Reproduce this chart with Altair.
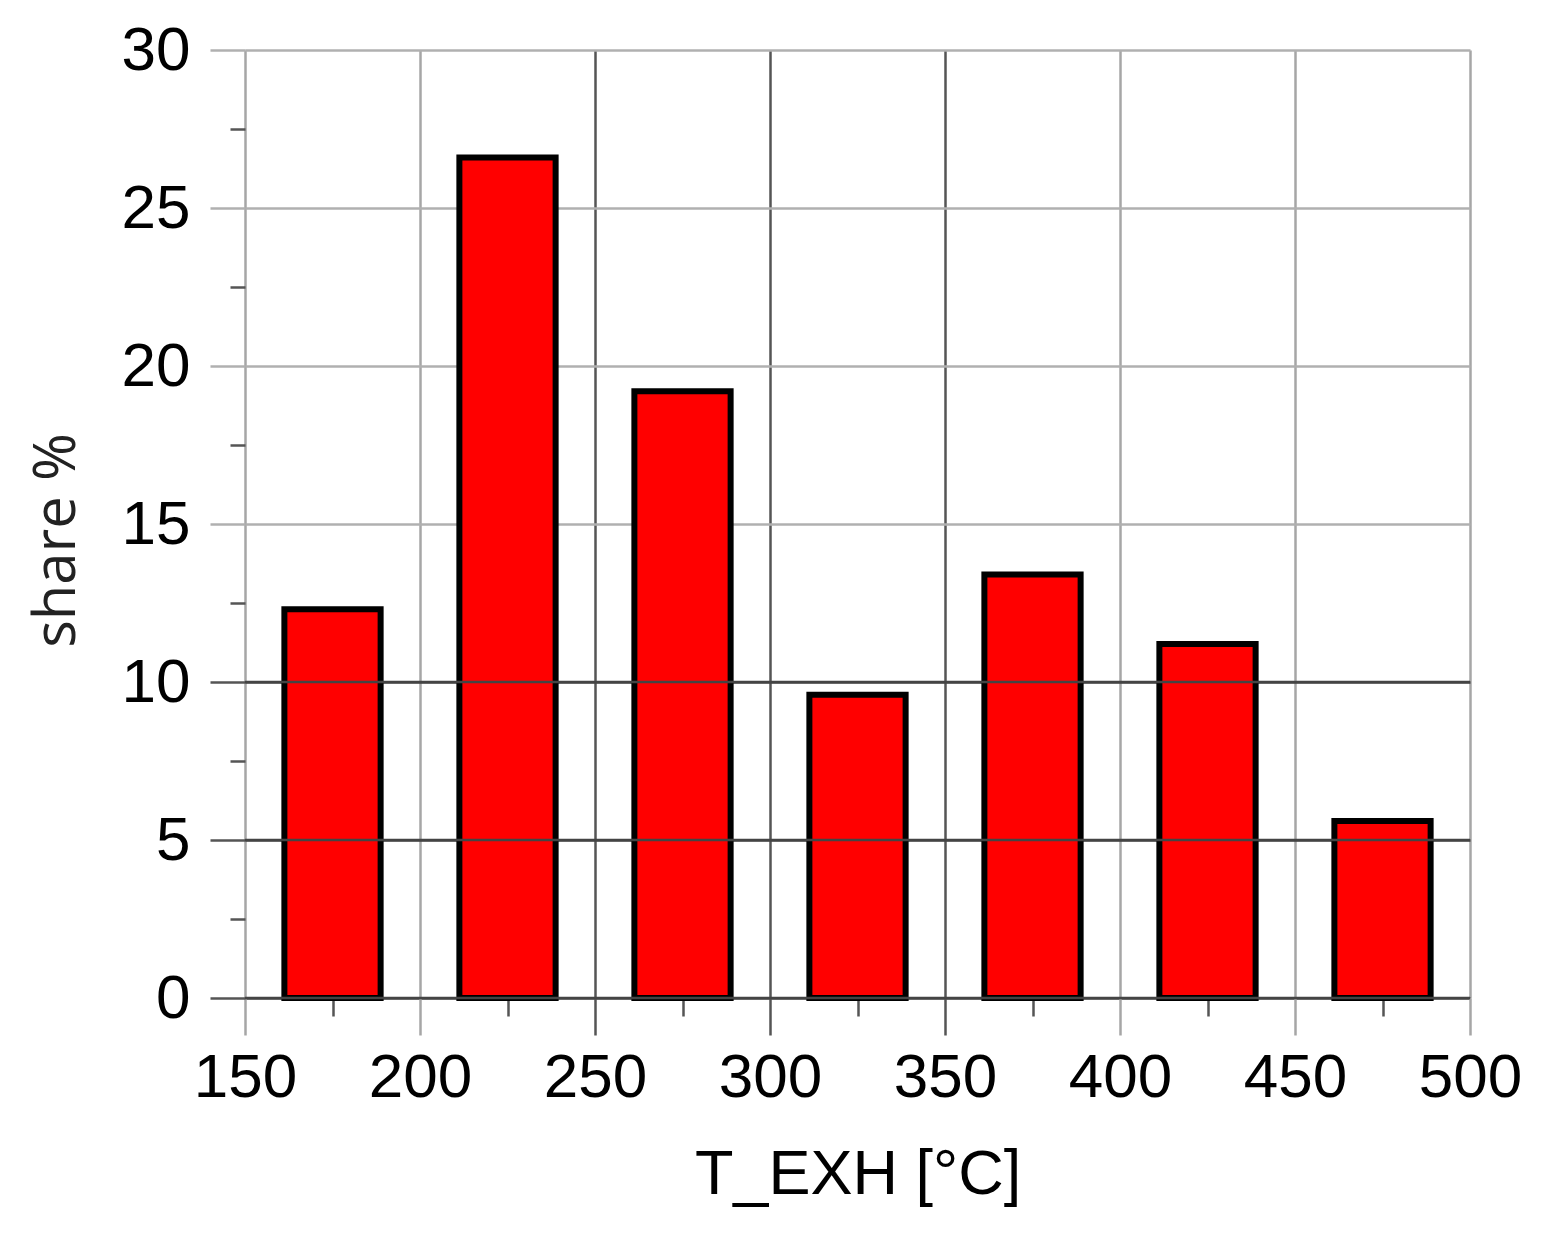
import altair as alt
import pandas as pd

# ---- data ----
bin_centers = [175, 225, 275, 325, 375, 425, 475]
shares = [12.3, 26.6, 19.2, 9.6, 13.4, 11.2, 5.6]
x_tick_values = [150, 175, 200, 225, 250, 275, 300, 325, 350, 375, 400, 425, 450, 475, 500]
y_tick_values = [0, 2.5, 5, 7.5, 10, 12.5, 15, 17.5, 20, 22.5, 25, 27.5, 30]
dark_levels = [0, 5, 10]

df = pd.DataFrame({"center": bin_centers, "share": shares})
levels = pd.DataFrame({"level": dark_levels})

HALF = 13.75
FONT = "Liberation Sans"

xscale = alt.Scale(domain=[150, 500], nice=False, zero=False)
yscale = alt.Scale(domain=[0, 30], nice=False)

x_major = "datum.value % 50 === 0"
y_major = "datum.value % 5 === 0"

x_axis = alt.Axis(
    values=x_tick_values,
    title="T_EXH [°C]",
    labelExpr=f"{x_major} ? datum.label : ''",
    domain=False,
    grid=True,
    gridOpacity={"condition": {"test": x_major, "value": 1}, "value": 0},
    gridColor={"condition": {"test": "datum.value >= 250 && datum.value <= 350", "value": "#555555"}, "value": "#a6a6a6"},
    gridWidth=2.5,
    tickSize={"condition": {"test": x_major, "value": 37}, "value": 18},
    tickColor={"condition": {"test": f"{x_major} && (datum.value < 250 || datum.value > 350)", "value": "#a6a6a6"}, "value": "#555555"},
    tickWidth=2.5,
    labelFont=FONT,
    labelFontSize=62,
    labelColor="#000000",
    labelPadding=12,
    labelFlush=False,
    labelOverlap=False,
    titleFont=FONT,
    titleFontSize=63,
    titleFontWeight="normal",
    titleColor="#000000",
    titleY=195,
    titleBaseline="alphabetic",
)

y_axis = alt.Axis(
    values=y_tick_values,
    title="share %",
    labelExpr=f"{y_major} ? datum.label : ''",
    domain=False,
    grid=True,
    gridOpacity={"condition": {"test": y_major, "value": 1}, "value": 0},
    gridColor={"condition": {"test": "datum.value <= 10", "value": "#444444"},
               "value": "#b0b0b0"},
    gridWidth=2.5,
    tickSize={"condition": {"test": y_major, "value": 35}, "value": 15},
    tickColor={"condition": {"test": f"{y_major} && datum.value > 10", "value": "#b0b0b0"}, "value": "#555555"},
    tickWidth=2.5,
    labelFont=FONT,
    labelFontSize=62,
    labelColor="#000000",
    labelPadding=20,
    labelFlush=False,
    labelOverlap=False,
    titleFont="Open Sans",
    titleFontSize=58,
    titleFontWeight="normal",
    titleColor="#222222",
    titleAngle=270,
    titleX=-188,
    titleY=490,
    titleAlign="center",
    titleBaseline="middle",
)

bars = (
    alt.Chart(df)
    .transform_calculate(x0=f"datum.center - {HALF}", x1=f"datum.center + {HALF}")
    .mark_rect(color="#ff0000", stroke="#000000", strokeWidth=6)
    .encode(
        x=alt.X("x0:Q", scale=xscale, axis=x_axis),
        x2="x1:Q",
        y=alt.Y("share:Q", scale=yscale, axis=y_axis),
        y2=alt.datum(0),
    )
)

rules = (
    alt.Chart(levels)
    .mark_rule(color="#444444", strokeWidth=2.5)
    .encode(y=alt.Y("level:Q", scale=yscale, axis=y_axis))
)

chart = (
    alt.layer(bars, rules)
    .properties(
        width=1225,
        height=948,
        autosize=alt.AutoSizeParams(type="none"),
        padding={"left": 237, "top": 42, "right": 60, "bottom": 230},
    )
    .configure_view(stroke=None)
)

chart.save("out.html", embed_options={"renderer": "svg", "actions": False})
